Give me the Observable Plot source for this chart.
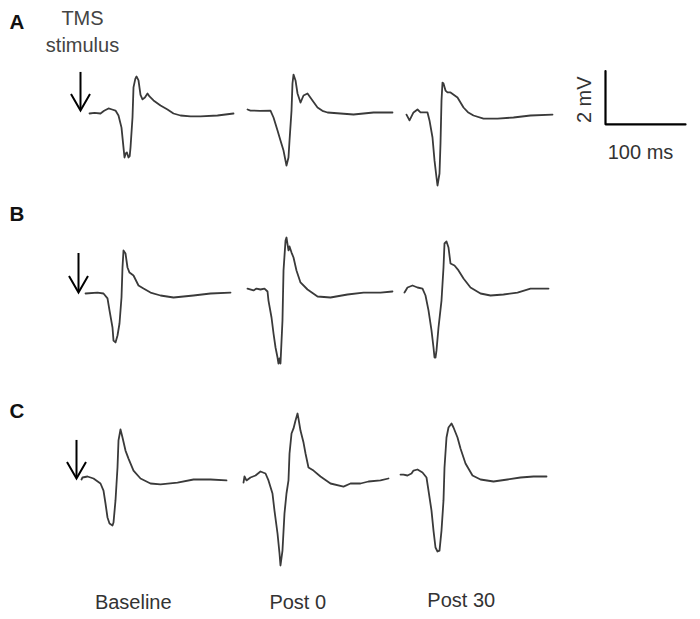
<!DOCTYPE html>
<html>
<head>
<meta charset="utf-8">
<script src="https://cdn.jsdelivr.net/npm/d3@7"></script>
<script src="https://cdn.jsdelivr.net/npm/@observablehq/plot@0.6"></script>
<style>
  html, body { margin: 0; padding: 0; background: #fff; }
  #chart svg { display: block; }
</style>
</head>
<body>
<div id="chart"></div>
<script>
// Conditions (columns) and panels (rows)
const conditions = ["Baseline", "Post 0", "Post 30"];
const panels = ["A", "B", "C"];

// MEP traces: [time (ms), amplitude (mV)]
const A_baseline = [[23.75,0],[30,0.02],[37.5,0],[42,0.1],[47.5,0.19],[52,0.15],[56.25,0.11],[60,-0.075],[63.75,-0.53],[66.25,-1.28],[67.5,-1.65],[69,-1.5],[70.5,-1.46],[72.5,-1.65],[74,-1.6],[75,-1.28],[77.5,-0.15],[78.75,0.98],[81,1.3],[82.5,1.39],[85,1.24],[87.5,0.7],[90,0.53],[93,0.6],[96.25,0.75],[98.75,0.64],[103.75,0.49],[112.5,0.3],[121.25,0.15],[128.75,0],[137.5,-0.075],[150,-0.11],[162.5,-0.11],[183.75,-0.075],[203.75,0]];
const A_post0 = [[24.4,0.15],[28.1,0.11],[40,0.1],[53.1,0.11],[56.9,-0.15],[61.9,-0.64],[65.6,-1.01],[69.4,-1.39],[73.1,-1.95],[75.6,-1.65],[76.9,-1.01],[79.4,0.11],[80.6,1.125],[81.9,1.46],[84.4,1.24],[86.9,0.75],[90.6,0.41],[94.4,0.675],[99.4,0.75],[105.6,0.49],[111.9,0.225],[118,0.1],[124.4,0.0375],[140.6,0],[156.9,-0.0375],[181.9,0.0375],[205.6,0.0375]];
const A_post30 = [[26.25,-0.04],[30,-0.26],[35,0.04],[40,0.15],[43.75,0.04],[52.5,0.04],[55,-0.26],[58.75,-0.9],[61.25,-1.76],[63.75,-2.4],[65,-2.7],[67.5,-2.25],[68.75,-1.125],[70,0.49],[71.25,1.16],[72.5,1.125],[75,0.86],[77.5,0.79],[81.25,0.79],[90,0.6],[97.5,0.225],[103,0.05],[110,-0.075],[122.5,-0.19],[140,-0.19],[160,-0.15],[181.25,-0.075],[208.75,-0.04]];
const B_baseline = [[18.75,0.075],[33.75,0.11],[41.25,0.075],[46.25,-0.11],[48.75,-0.56],[52.5,-1.2],[53.75,-1.69],[56.25,-1.76],[58.75,-1.5],[61.25,-1.05],[63.75,-0.075],[65,1.05],[66.25,1.69],[68.75,1.575],[71.25,1.05],[73.75,0.86],[78.75,0.75],[85,0.375],[91.25,0.26],[100,0.11],[112.5,0],[128.75,-0.075],[153.75,0],[175,0.075],[200,0.11]];
const B_post0 = [[24.4,0.26],[31.9,0.19],[35.6,0.26],[40.6,0.225],[45.6,0.26],[49.4,0.15],[50.6,-0.19],[54.4,-0.825],[56.9,-1.425],[59.4,-1.95],[61.9,-2.325],[63.1,-2.55],[64.4,-2.36],[65.6,-2.55],[68.1,-0.94],[69.4,0.94],[71.9,2.06],[73.1,2.175],[75.6,1.69],[76.9,1.84],[79.4,1.61],[81.9,1.425],[85.6,0.94],[90.6,0.49],[99.4,0.225],[111.9,-0.0375],[128.1,-0.075],[149.4,0.0375],[169.4,0.11],[190.6,0.11],[205.6,0.15]];
const B_post30 = [[23.75,0.11],[27.5,0.3],[33.75,0.375],[40,0.3],[46.25,0.26],[50,0],[53.75,-0.56],[57.5,-1.31],[60,-1.95],[61.25,-2.325],[62.5,-2.325],[63.75,-2.06],[66.25,-1.2],[70,-0.19],[72.5,1.05],[73.75,1.95],[76.25,2.025],[78.75,1.8],[81.25,1.2],[86.25,1.125],[91.25,0.94],[97.5,0.64],[106.25,0.3],[118.75,0.075],[131.25,0],[147.5,0.0375],[165,0.11],[181.25,0.26],[203.75,0.26]];
const C_baseline = [[13.75,-0.075],[15,0],[21.25,0.0375],[28.75,-0.0375],[37.5,-0.225],[41.25,-0.49],[43.75,-0.975],[46.25,-1.5],[48.75,-1.725],[52.5,-1.8],[53.75,-1.69],[56.25,-0.86],[58.75,0.375],[60,1.39],[62.5,1.8],[65,1.5],[68.75,1.01],[72.5,0.71],[78.75,0.26],[87.5,-0.0375],[100,-0.225],[112.5,-0.26],[133.75,-0.19],[153.75,-0.075],[175,-0.075],[195,-0.11]];
const C_post0 = [[19.4,-0.19],[20.6,0.0375],[23.1,-0.11],[28.1,0],[34.4,0.075],[40.6,0.225],[46.9,0.15],[50.6,-0.11],[55.6,-0.6],[58.1,-1.24],[61.9,-2.1],[64.4,-2.85],[65.6,-3.3],[68.1,-2.74],[70.6,-1.35],[73.1,-0.6],[75.6,-0.11],[76.9,0.9],[79.4,1.65],[81.9,1.84],[84.4,2.14],[86.9,2.4],[88.1,2.21],[90.6,1.76],[94.4,1.31],[96.9,0.9],[100.6,0.375],[106.9,0.26],[115.6,0.0375],[128.1,-0.225],[144.4,-0.34],[153.1,-0.225],[165.6,-0.225],[175.6,-0.15],[190.6,-0.11],[200.6,-0.0375]];
const C_post30 = [[18.75,0.11],[22.5,0.11],[27.5,0.075],[32.5,0.15],[35,0.26],[40,0.3],[46.25,0.19],[51.25,0],[53.75,-0.49],[57.5,-1.24],[60,-1.99],[62.5,-2.625],[65,-2.775],[67.5,-2.74],[70,-1.99],[72.5,-0.86],[73.75,0.375],[76.25,1.5],[78.75,1.875],[82.5,2.025],[85,1.875],[90,1.5],[93.75,1.09],[100,0.525],[108.75,0.075],[118.75,-0.075],[135,-0.15],[152.5,-0.075],[168.75,0],[185,0.0375],[201.25,0.0375]];

// TMS stimulus markers (one per panel, Baseline column)
const stimulusMs = [12.5, 10, 7.5];
const arrowTopMv = [1.54, 1.575, 1.39];
const arrowTipMv = [0.11, 0.11, -0.04];

// Scale bar
const scaleBarMs = 100;
const scaleBarMv = 2;

// ---- build tables ----
const traces = [
  {row: "A", cond: "Baseline", pts: A_baseline},
  {row: "A", cond: "Post 0", pts: A_post0},
  {row: "A", cond: "Post 30", pts: A_post30},
  {row: "B", cond: "Baseline", pts: B_baseline},
  {row: "B", cond: "Post 0", pts: B_post0},
  {row: "B", cond: "Post 30", pts: B_post30},
  {row: "C", cond: "Baseline", pts: C_baseline},
  {row: "C", cond: "Post 0", pts: C_post0},
  {row: "C", cond: "Post 30", pts: C_post30}
];
const table = traces.flatMap(({row, cond, pts}) =>
  pts.map(([t, mv]) => ({row, cond, key: row + cond, t, mv})));

const stim = panels.map((row, i) => ({
  row, cond: "Baseline", t: stimulusMs[i], top: arrowTopMv[i], tip: arrowTipMv[i]
}));

// scale bar anchored in panel A, right of the Post 30 trace
const sbT0 = 275, sbV0 = -0.41;
const scaleBar = [
  {row: "A", cond: "Post 30", t: sbT0, mv: sbV0 + scaleBarMv},
  {row: "A", cond: "Post 30", t: sbT0, mv: sbV0},
  {row: "A", cond: "Post 30", t: sbT0 + scaleBarMs, mv: sbV0}
];

const chevron = {
  draw(ctx) {
    ctx.moveTo(-9.5, -16.5);
    ctx.lineTo(0, 0);
    ctx.lineTo(9.5, -16.5);
  }
};

const font = "'Liberation Sans', Arial, Helvetica, sans-serif";
const letterDy = [8, 18, 33];
const labelDx = [-16, -9, -3];
const labelDy = [42, 42, 40];

const marks = [
  Plot.line(table, {x: "t", y: "mv", z: "key", fx: "cond", fy: "row",
    stroke: "#3a3a3a", strokeWidth: 1.8, strokeLinejoin: "round"}),
  Plot.ruleX(stim, {x: "t", y1: "top", y2: "tip", fx: "cond", fy: "row",
    stroke: "#000", strokeWidth: 2}),
  Plot.dot(stim, {x: "t", y: "tip", fx: "cond", fy: "row", symbol: chevron,
    fill: "none", stroke: "#000", strokeWidth: 2}),
  Plot.text(stim.slice(0, 1), {x: "t", y: "top", fx: "cond", fy: "row",
    text: () => "TMS\nstimulus", lineAnchor: "bottom", lineHeight: 1.35,
    dx: 2, dy: -20, fontSize: 20, fill: "#444", textAnchor: "middle"}),
  Plot.line(scaleBar, {x: "t", y: "mv", fx: "cond", fy: "row",
    stroke: "#000", strokeWidth: 2.2, strokeLinejoin: "miter"}),
  Plot.text([{row: "A", cond: "Post 30", t: sbT0, mv: sbV0 + scaleBarMv / 2}],
    {x: "t", y: "mv", fx: "cond", fy: "row", text: () => `${scaleBarMv} mV`,
     rotate: -90, dx: -21, dy: 2, fontSize: 20, fill: "#333"}),
  Plot.text([{row: "A", cond: "Post 30", t: sbT0 + scaleBarMs / 2, mv: sbV0}],
    {x: "t", y: "mv", fx: "cond", fy: "row", text: () => `${scaleBarMs} ms`,
     dx: -5, dy: 28, fontSize: 20, fill: "#333"}),
  ...panels.map((p, i) => Plot.text([p], {
    fx: () => "Baseline", fy: (d) => d, text: (d) => d,
    frameAnchor: "top-left", textAnchor: "start", lineAnchor: "bottom",
    dx: -61, dy: letterDy[i], fontSize: 20.5, fontWeight: "bold", fill: "#111"})),
  ...conditions.map((c, i) => Plot.text([c], {
    fx: (d) => d, fy: () => "C", text: (d) => d,
    frameAnchor: "bottom", textAnchor: "middle", lineAnchor: "bottom",
    dx: labelDx[i], dy: labelDy[i], fontSize: 20, fill: "#333"}))
];

const chart = Plot.plot({
  width: 700,
  height: 619,
  marginLeft: 70,
  marginRight: 157.5,
  marginTop: 20,
  marginBottom: 53,
  x: {domain: [0, 196.875], axis: null},
  y: {domain: [-3.3375, 3.4875], axis: null},
  fx: {domain: conditions, padding: 0, round: false, axis: null},
  fy: {domain: panels, padding: 0, round: false, axis: null},
  style: {fontFamily: font, background: "#fff", overflow: "visible"},
  marks
});
document.getElementById("chart").appendChild(chart);
</script>
</body>
</html>
